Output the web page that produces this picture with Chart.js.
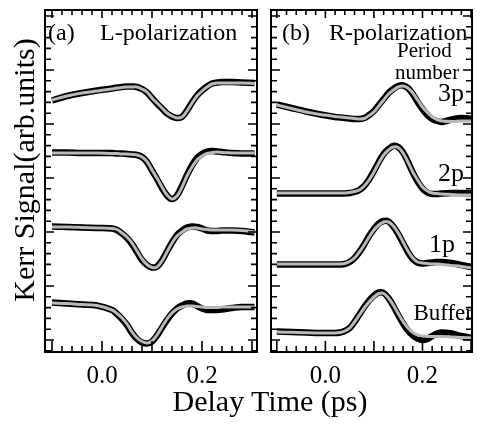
<!DOCTYPE html>
<html>
<head>
<meta charset="utf-8">
<script src="https://cdn.jsdelivr.net/npm/chart.js@4.4.1/dist/chart.umd.min.js"></script>
<style>
body { margin: 0; background: #fff; }
#quadro { position: relative; width: 477px; height: 423px; overflow: hidden;
  font-family: "Liberation Serif", "Times New Roman", serif; color: #000; }
canvas { position: absolute; top: 0; }
.rot { position: absolute; white-space: nowrap; line-height: 1; }
</style>
</head>
<body>
<div id="quadro">
  <canvas id="grafA" width="262" height="423" style="left:0"></canvas>
  <canvas id="grafB" width="215" height="423" style="left:262px"></canvas>
</div>
<script>
// atraso (ps)
const atraso = [-0.10, -0.07, -0.04, -0.01, 0.02, 0.03, 0.04, 0.05, 0.06, 0.07, 0.08, 0.09, 0.10, 0.11, 0.12,
  0.13, 0.14, 0.15, 0.16, 0.17, 0.18, 0.19, 0.20, 0.21, 0.22, 0.23, 0.24, 0.26, 0.28, 0.305];

// (a) L-polarization : dados (preto) e ajuste (cinza)
const L3pDados = [25.15, 25.6, 25.9, 26.15, 26.35, 26.45, 26.5, 26.55, 26.55, 26.5, 26.3, 25.95, 25.4, 24.85, 24.35,
  23.85, 23.55, 23.4, 23.5, 24.15, 24.95, 25.65, 26.15, 26.55, 26.85, 26.95, 27.0, 27.0, 26.95, 26.9];
const L3pAjuste = [25.2, 25.6, 25.9, 26.1, 26.3, 26.4, 26.45, 26.5, 26.5, 26.5, 26.3, 26.0, 25.4, 24.9, 24.4,
  23.9, 23.6, 23.4, 23.5, 24.1, 24.9, 25.6, 26.1, 26.5, 26.8, 26.9, 26.9, 26.9, 26.9, 26.85];
const L2pDados = [19.95, 19.95, 19.9, 19.9, 19.9, 19.85, 19.85, 19.8, 19.75, 19.7, 19.5, 19.0, 18.15, 17.3, 16.4,
  15.65, 15.3, 15.65, 16.6, 17.7, 18.65, 19.4, 19.8, 20.05, 20.1, 20.05, 20.0, 19.9, 19.85, 19.85];
const L2pAjuste = [19.9, 19.9, 19.9, 19.9, 19.85, 19.85, 19.8, 19.8, 19.75, 19.7, 19.5, 19.05, 18.2, 17.4, 16.5,
  15.7, 15.3, 15.6, 16.5, 17.6, 18.5, 19.2, 19.6, 19.85, 19.95, 20.0, 19.95, 19.9, 19.9, 19.9];
const L1pDados = [12.55, 12.5, 12.45, 12.4, 12.35, 12.2, 11.85, 11.4, 10.8, 10.0, 9.2, 8.7, 8.45, 8.55, 9.15,
  10.05, 10.95, 11.7, 12.15, 12.45, 12.55, 12.5, 12.35, 12.15, 12.1, 12.1, 12.15, 12.15, 12.1, 11.95];
const L1pAjuste = [12.5, 12.5, 12.45, 12.4, 12.35, 12.25, 11.9, 11.5, 10.9, 10.1, 9.3, 8.75, 8.45, 8.5, 9.1,
  10.0, 10.9, 11.6, 12.0, 12.3, 12.4, 12.4, 12.3, 12.25, 12.2, 12.2, 12.2, 12.2, 12.15, 12.0];
const LBufDados = [4.95, 4.85, 4.75, 4.65, 4.2, 3.8, 3.3, 2.7, 1.9, 1.3, 0.95, 0.85, 1.05, 1.65, 2.45,
  3.2, 3.85, 4.35, 4.65, 4.85, 4.85, 4.6, 4.35, 4.2, 4.2, 4.2, 4.25, 4.4, 4.5, 4.5];
const LBufAjuste = [4.9, 4.85, 4.75, 4.65, 4.2, 3.85, 3.4, 2.8, 2.0, 1.4, 1.05, 0.9, 1.1, 1.7, 2.5,
  3.3, 3.9, 4.3, 4.5, 4.6, 4.6, 4.55, 4.5, 4.45, 4.45, 4.45, 4.5, 4.5, 4.5, 4.5];

// (b) R-polarization
const R3pDados = [24.75, 24.4, 24.05, 23.75, 23.5, 23.45, 23.4, 23.35, 23.3, 23.3, 23.4, 23.7, 24.1, 24.7, 25.3,
  25.9, 26.3, 26.6, 26.65, 26.4, 25.8, 25.0, 24.3, 23.7, 23.3, 23.1, 23.0, 23.25, 23.4, 23.3];
const R3pAjuste = [24.7, 24.35, 24.0, 23.75, 23.55, 23.5, 23.45, 23.4, 23.35, 23.3, 23.35, 23.65, 24.0, 24.6, 25.2,
  25.8, 26.2, 26.5, 26.6, 26.4, 25.9, 25.2, 24.5, 23.95, 23.5, 23.25, 23.1, 23.05, 23.1, 23.1];
const R2pDados = [15.85, 15.85, 15.85, 15.85, 15.85, 15.85, 15.85, 15.9, 16.0, 16.2, 16.6, 17.25, 18.1, 19.0, 19.8,
  20.3, 20.6, 20.5, 19.95, 19.0, 17.95, 17.05, 16.35, 15.95, 15.8, 15.8, 15.85, 15.9, 15.9, 15.85];
const R2pAjuste = [15.9, 15.9, 15.9, 15.9, 15.9, 15.9, 15.9, 15.95, 16.05, 16.2, 16.6, 17.2, 18.0, 18.9, 19.7,
  20.2, 20.5, 20.45, 19.9, 19.0, 18.0, 17.2, 16.5, 16.1, 15.9, 15.85, 15.8, 15.75, 15.7, 15.7];
const R1pDados = [8.75, 8.75, 8.75, 8.75, 8.75, 8.75, 8.8, 9.0, 9.4, 10.0, 10.75, 11.6, 12.3, 12.85, 13.1,
  13.05, 12.55, 11.8, 10.9, 10.0, 9.3, 8.95, 8.85, 8.9, 8.95, 9.0, 9.0, 8.9, 8.7, 8.45];
const R1pAjuste = [8.8, 8.8, 8.8, 8.8, 8.8, 8.8, 8.85, 9.05, 9.4, 10.0, 10.7, 11.5, 12.2, 12.7, 13.0,
  13.0, 12.6, 11.9, 11.0, 10.1, 9.4, 9.0, 8.9, 8.85, 8.8, 8.8, 8.75, 8.65, 8.55, 8.4];
const RBufDados = [2.05, 2.0, 1.95, 1.9, 1.9, 1.95, 2.1, 2.4, 3.0, 3.75, 4.5, 5.15, 5.65, 5.95, 5.9,
  5.4, 4.6, 3.7, 2.85, 2.15, 1.65, 1.35, 1.2, 1.3, 1.6, 1.85, 1.95, 1.85, 1.6, 1.4];
const RBufAjuste = [2.0, 1.97, 1.93, 1.9, 1.9, 1.95, 2.1, 2.4, 3.0, 3.7, 4.4, 5.0, 5.5, 5.85, 5.85,
  5.4, 4.7, 3.85, 3.05, 2.4, 1.95, 1.7, 1.6, 1.55, 1.55, 1.55, 1.55, 1.5, 1.45, 1.4];

// ticks do eixo x
const xTickValores = [0.0, 0.2];
const xTickRotulos = ["0.0", "0.2"];
const xMaiores = [-0.1, 0.0, 0.1, 0.2, 0.3];

function pontos(ys) {
  return ys.map((y, i) => ({ x: atraso[i], y: y }));
}

function gerarDatasets(pares) {
  const ds = [];
  pares.forEach(([dados, ajuste]) => {
    ds.push({ data: pontos(ajuste), borderColor: "#b9b9b9", borderWidth: 3, order: 1 });
    ds.push({ data: pontos(dados), borderColor: "#000", borderWidth: 6.5, order: 2 });
  });
  return ds;
}

const moldura = {
  id: "moldura",
  afterDatasetsDraw(chart) {
    const { ctx, chartArea: a, scales: { x, y } } = chart;
    ctx.save();
    ctx.strokeStyle = "#000";
    ctx.lineWidth = 1.6;
    ctx.beginPath();
    // ticks x (menores a cada 0.02)
    for (let i = 0; i <= 20; i++) {
      const v = -0.1 + i * 0.02;
      const px = x.getPixelForValue(v);
      if (px < a.left || px > a.right) continue;
      const maior = xMaiores.some(m => Math.abs(m - v) < 1e-6);
      ctx.moveTo(px, a.bottom); ctx.lineTo(px, a.bottom - (maior ? 11 : 6));
      ctx.moveTo(px, a.top); ctx.lineTo(px, a.top + (maior ? 8 : 5));
    }
    // ticks y
    for (let v = 0.12, k = 0; v < y.max; v += 1.08, k++) {
      const py = y.getPixelForValue(v);
      const len = (k % 5 === 1) ? 9 : 6;
      ctx.moveTo(a.left, py); ctx.lineTo(a.left + len, py);
      ctx.moveTo(a.right, py); ctx.lineTo(a.right - len, py);
    }
    ctx.stroke();
    ctx.lineWidth = 2;
    ctx.strokeRect(a.left, a.top, a.right - a.left, a.bottom - a.top);
    ctx.restore();
  }
};

function criarPainel(canvasId, pares, padding, xMin, xMax) {
  const ctx = document.getElementById(canvasId).getContext("2d");
  return new Chart(ctx, {
    type: "line",
    data: { datasets: gerarDatasets(pares) },
    options: {
      responsive: false,
      animation: false,
      events: [],
      layout: { padding: padding },
      elements: {
        point: { radius: 0 },
        line: { tension: 0.35, borderCapStyle: "butt", borderJoinStyle: "round", fill: false }
      },
      plugins: { legend: { display: false }, tooltip: { enabled: false } },
      scales: {
        x: { type: "linear", min: xMin, max: xMax, display: false },
        y: { type: "linear", min: 0, max: 34.2, display: false }
      }
    },
    plugins: [moldura]
  });
}

const quadro = document.getElementById("quadro");

function rotulo(texto, x, base, tam, alinhar) {
  const d = document.createElement("div");
  d.className = "rot";
  d.textContent = texto;
  d.style.fontSize = tam + "px";
  d.style.top = (base - 0.8375 * tam) + "px";
  if (alinhar === "right") {
    d.style.right = (477 - x) + "px";
  } else if (alinhar === "center") {
    d.style.left = x + "px";
    d.style.transform = "translateX(-50%)";
  } else {
    d.style.left = x + "px";
  }
  quadro.appendChild(d);
  return d;
}

const grafA = criarPainel("grafA",
  [[L3pDados, L3pAjuste], [L2pDados, L2pAjuste], [L1pDados, L1pAjuste], [LBufDados, LBufAjuste]],
  { left: 45, right: 5, top: 10, bottom: 71 }, -0.114, 0.31);
const grafB = criarPainel("grafB",
  [[R3pDados, R3pAjuste], [R2pDados, R2pAjuste], [R1pDados, R1pAjuste], [RBufDados, RBufAjuste]],
  { left: 9, right: 5, top: 10, bottom: 71 }, -0.112, 0.302);

// rótulos dos ticks x, posicionados pela escala de cada gráfico
[[grafA, 0], [grafB, 262]].forEach(([g, desloc]) => {
  xTickValores.forEach((v, i) => {
    rotulo(xTickRotulos[i], desloc + g.scales.x.getPixelForValue(v), 383, 25, "center");
  });
});

rotulo("Delay Time (ps)", 270, 411, 30, "center");
const ky = rotulo("Kerr Signal(arb.units)", 0, 0, 30, "left");
ky.style.left = "24px";
ky.style.top = "170px";
ky.style.transform = "translate(-50%, -50%) rotate(-90deg)";

rotulo("(a)", 48, 40, 24, "left");
rotulo("L-polarization", 100, 40, 24, "left");
rotulo("(b)", 282, 40, 24, "left");
rotulo("R-polarization", 329, 40, 24, "left");
rotulo("Period", 397, 58, 21, "left");
rotulo("number", 395, 80, 21, "left");
rotulo("3p", 464, 102, 26, "right");
rotulo("2p", 464, 182, 26, "right");
rotulo("1p", 455, 253, 26, "right");
rotulo("Buffer", 473, 320, 23, "right");
</script>
</body>
</html>
